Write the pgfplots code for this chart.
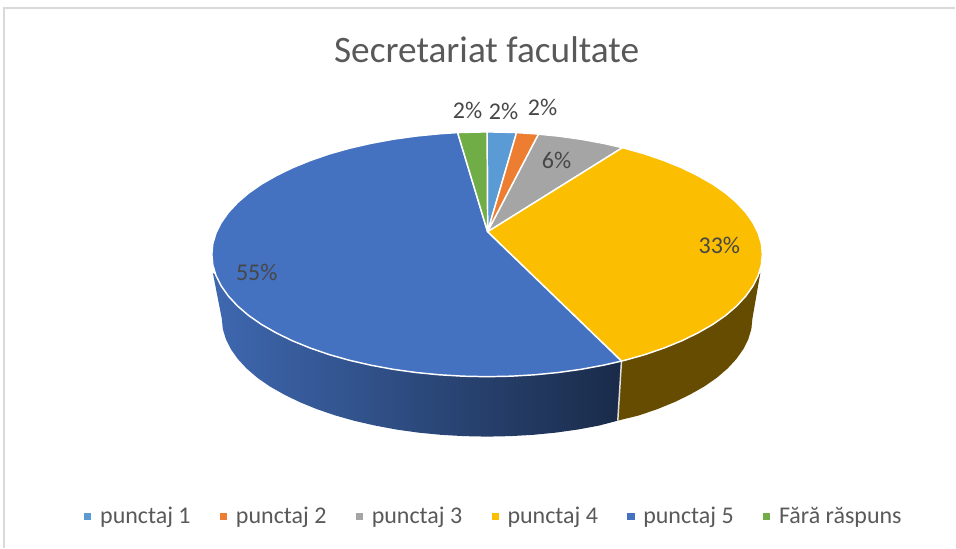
\documentclass[border=0pt]{standalone}
\usepackage{pgfplots}
\pgfplotsset{compat=1.18}
\usepackage{fontspec}
\setmainfont{Carlito}
\definecolor{cA}{HTML}{5B9BD5}
\definecolor{cB}{HTML}{ED7D31}
\definecolor{cC}{HTML}{A5A5A5}
\definecolor{cD}{HTML}{FCBE00}
\definecolor{cE}{HTML}{4471C0}
\definecolor{cF}{HTML}{70AD47}
\definecolor{txt}{HTML}{595959}
\begin{document}
\begin{tikzpicture}
\begin{axis}[
  scale only axis, width=717pt, height=411pt,
  xmin=0, xmax=956, ymin=0, ymax=548, y dir=reverse,
  hide axis, clip=false,
  legend columns=6,
  legend cell align=left,
  legend style={at={(axis cs:494,517)}, anchor=center, draw=none, fill=none,
    font=\fontsize{18}{20}\selectfont\color{txt},
    /tikz/every even column/.style={column sep=19pt},
    /tikz/every odd column/.style={column sep=3.5pt}},
  legend image code/.code={\fill[#1] (0pt,-3.2pt) rectangle (6.4pt,3.2pt);},
  wedge/.style={line width=1.1pt, draw=white, line join=round},
]
% full picture extent
\addplot[forget plot, draw=none] coordinates {(0,0) (956,548)};
% chart frame
\addplot[forget plot, draw=black!15, line width=1.2pt] coordinates {(4,548) (4,8) (956,8)};
% side faces
\addplot[forget plot, draw=none, left color=cE!92!black, right color=cE!38!black] coordinates {
(213,273)(222,319)(223,329.3)(226.1,339.5)(231.1,349.5)(238.1,359.4)(246.9,368.9)(257.6,378.1)(270,386.7)(284.2,394.8)(299.8,402.4)(316.9,409.4)(335.3,415.7)(354.7,421.2)(375.3,425.9)(396.7,429.9)(418.8,433)(441.4,435.2)(464.4,436.5)(487.5,437)(510.6,436.5)(533.6,435.2)(556.2,433)(578.3,429.9)(599.7,425.9)(618.3,421)(622,361.4)(603.9,365.5)(581.7,369.6)(558.8,372.8)(535.3,375.1)(511.5,376.5)(487.5,377)(463.5,376.5)(439.7,375.1)(416.2,372.8)(393.3,369.6)(371.1,365.5)(349.7,360.6)(329.5,354.9)(310.4,348.3)(292.7,341.1)(276.5,333.2)(261.8,324.8)(248.9,315.8)(237.8,306.3)(228.6,296.4)(221.4,286.2)(216.2,275.8)} --cycle;
\addplot[forget plot, draw=none, fill=cD!40!black] coordinates {
(622,361.4)(625.3,360.6)(645.5,354.9)(664.6,348.3)(682.3,341.1)(698.5,333.2)(713.2,324.8)(726.1,315.8)(737.2,306.3)(746.4,296.4)(753.6,286.2)(758.8,275.8)(761,273)(753,319)(752,329.3)(748.9,339.5)(743.9,349.5)(736.9,359.4)(728.1,368.9)(717.4,378.1)(705,386.7)(690.8,394.8)(675.2,402.4)(658.1,409.4)(639.7,415.7)(618.3,421)} --cycle;
\addplot[forget plot, draw=black!12, line width=1.1pt] coordinates {(622,361.4)(618.3,421)};
% top faces
\addplot[wedge, fill=cA] coordinates {(488,232)(487.5,132)(511.5,132.5)(517,132.7)} --cycle;
\addlegendentry{punctaj 1}
\addplot[wedge, fill=cB] coordinates {(488,232)(517,132.7)(535.3,133.9)(539,134.3)} --cycle;
\addlegendentry{punctaj 2}
\addplot[wedge, fill=cC] coordinates {(488,232)(539,134.3)(558.8,136.2)(581.7,139.4)(603.9,143.5)(623,147.8)} --cycle;
\addlegendentry{punctaj 3}
\addplot[wedge, fill=cD] coordinates {(488,232)(623,147.8)(625.3,148.4)(645.5,154.1)(664.6,160.7)(682.3,167.9)(698.5,175.8)(713.2,184.2)(726.1,193.2)(737.2,202.7)(746.4,212.6)(753.6,222.8)(758.8,233.2)(762,243.8)(763,254.5)(762,265.2)(758.8,275.8)(753.6,286.2)(746.4,296.4)(737.2,306.3)(726.1,315.8)(713.2,324.8)(698.5,333.2)(682.3,341.1)(664.6,348.3)(645.5,354.9)(625.3,360.6)(622,361.4)} --cycle;
\addlegendentry{punctaj 4}
\addplot[wedge, fill=cE] coordinates {(488,232)(622,361.4)(603.9,365.5)(581.7,369.6)(558.8,372.8)(535.3,375.1)(511.5,376.5)(487.5,377)(463.5,376.5)(439.7,375.1)(416.2,372.8)(393.3,369.6)(371.1,365.5)(349.7,360.6)(329.5,354.9)(310.4,348.3)(292.7,341.1)(276.5,333.2)(261.8,324.8)(248.9,315.8)(237.8,306.3)(228.6,296.4)(221.4,286.2)(216.2,275.8)(213,265.2)(212,254.5)(213,243.8)(216.2,233.2)(221.4,222.8)(228.6,212.6)(237.8,202.7)(248.9,193.2)(261.8,184.2)(276.5,175.8)(292.7,167.9)(310.4,160.7)(329.5,154.1)(349.7,148.4)(371.1,143.5)(393.3,139.4)(416.2,136.2)(439.7,133.9)(458,132.7)} --cycle;
\addlegendentry{punctaj 5}
\addplot[wedge, fill=cF] coordinates {(488,232)(458,132.7)(463.5,132.5)(487.5,132)} --cycle;
\addlegendentry{Fără răspuns}
% texts
\node[text=txt, font=\fontsize{28}{32}\selectfont] at (axis cs:487,50) {Secretariat facultate};
\begin{scope}[every node/.style={text=black!72, font=\fontsize{18}{20}\selectfont}]
\node at (axis cs:468,111) {2\%};
\node at (axis cs:504,112) {2\%};
\node at (axis cs:543,108) {2\%};
\node at (axis cs:557,161) {6\%};
\node at (axis cs:720,246) {33\%};
\node at (axis cs:257,273) {55\%};
\end{scope}
\end{axis}
\end{tikzpicture}
\end{document}
